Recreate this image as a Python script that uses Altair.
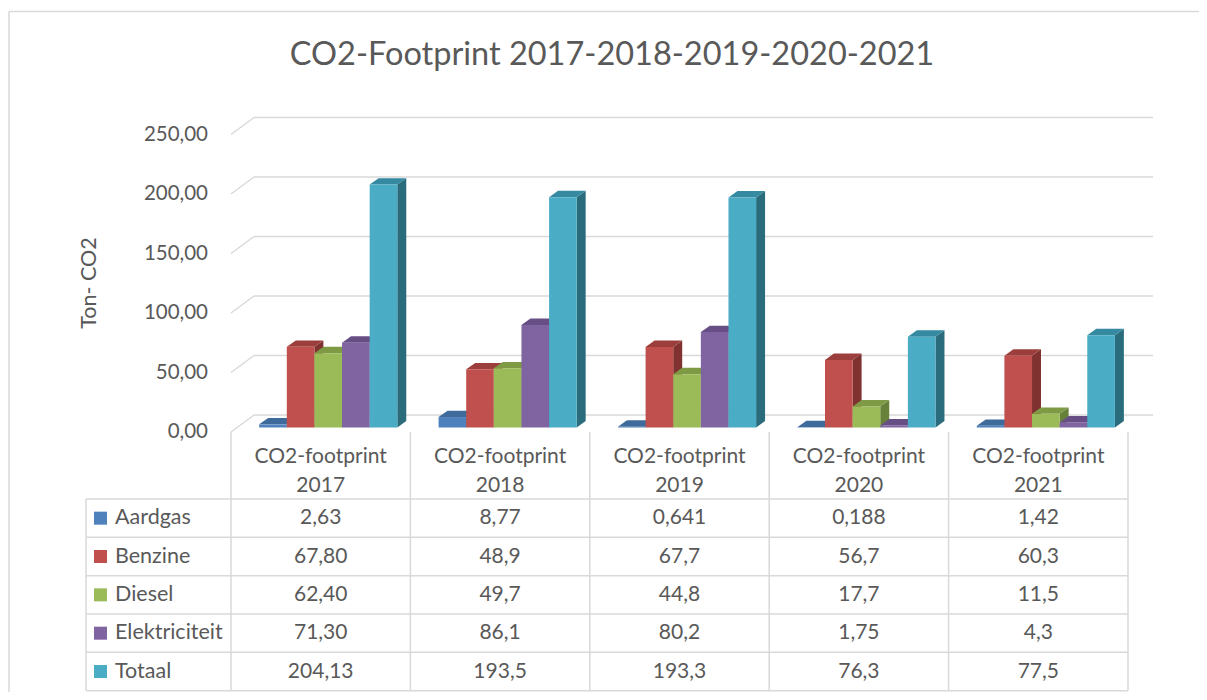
import altair as alt
import pandas as pd

# ---------------- data ----------------
TITLE = "CO2-Footprint 2017-2018-2019-2020-2021"
Y_TITLE = "Ton- CO2"
CATEGORY_PREFIX = "CO2-footprint"
YEARS = ["2017", "2018", "2019", "2020", "2021"]
SERIES = ["Aardgas", "Benzine", "Diesel", "Elektriciteit", "Totaal"]
AARDGAS = ["2,63", "8,77", "0,641", "0,188", "1,42"]
BENZINE = ["67,80", "48,9", "67,7", "56,7", "60,3"]
DIESEL = ["62,40", "49,7", "44,8", "17,7", "11,5"]
ELEKTRICITEIT = ["71,30", "86,1", "80,2", "1,75", "4,3"]
TOTAAL = ["204,13", "193,5", "193,3", "76,3", "77,5"]
Y_TICKS = [0, 50, 100, 150, 200, 250]

# ---------------- styling / layout ----------------
FONT = "Lato"
TXT = "#595959"
LINE = "#d9d9d9"
FRONT = ["#4F81BD", "#C0504D", "#9BBB59", "#8064A2", "#4BACC6"]
TOP = ["#3F6A9C", "#9C3F3C", "#7E9A45", "#674F85", "#3589A0"]
SIDE = ["#36598A", "#7F3230", "#67803A", "#56436F", "#2A6C7C"]

W, H = 1191, 684
XS = alt.Scale(domain=[0, 5], range=[223, 1120])          # category groups
YS = alt.Scale(domain=[0, 250], range=[424, 126.5])        # value axis (front plane)
TS = alt.Scale(domain=[0, 5], range=[491, 682.7])          # table rows
BAR_OFF, BAR_W = 0.157, 0.154      # in group units
DEPTH_X = 0.05                     # bar depth, group units
DEPTH_Y = 5.4                      # bar depth, value units
LIFT = -4.5                        # bars sit slightly back on the floor
WALL_DX, WALL_DY = 23, -17


def num(s):
    return float(s.replace(",", "."))


series_vals = [AARDGAS, BENZINE, DIESEL, ELEKTRICITEIT, TOTAAL]

front_rows, top_rows, side_rows, cell_rows = [], [], [], []
for s, (name, vals) in enumerate(zip(SERIES, series_vals)):
    for g, txt in enumerate(vals):
        v = num(txt)
        x0 = g + BAR_OFF + s * BAR_W
        x1 = x0 + BAR_W
        bid = f"{s}-{g}"
        front_rows.append(dict(series=name, x0=x0, x1=x1, v=v, z=0.0))
        top_rows.append(dict(series=name, bid=bid, yv=v, xa=x0, xb=x1))
        top_rows.append(dict(series=name, bid=bid, yv=v + DEPTH_Y, xa=x0 + DEPTH_X, xb=x1 + DEPTH_X))
        side_rows.append(dict(series=name, bid=bid, xv=x1, yt=v, yb=0.0))
        side_rows.append(dict(series=name, bid=bid, xv=x1 + DEPTH_X, yt=v + DEPTH_Y, yb=DEPTH_Y))
        cell_rows.append(dict(gc=g + 0.5, rc=s + 0.5, label=txt))

front_df = pd.DataFrame(front_rows)
top_df = pd.DataFrame(top_rows)
side_df = pd.DataFrame(side_rows)
cell_df = pd.DataFrame(cell_rows)
tick_df = pd.DataFrame({"v": Y_TICKS, "label": [f"{t:.2f}".replace(".", ",") for t in Y_TICKS]})
head_df = pd.DataFrame({"gc": [i + 0.5 for i in range(len(YEARS))],
                        "label": [f"{CATEGORY_PREFIX}\n{y}" for y in YEARS]})
legend_df = pd.DataFrame({"series": SERIES, "rc": [i + 0.5 for i in range(len(SERIES))]})
hline_df = pd.DataFrame({"k": list(range(len(SERIES) + 1))})
vline_df = pd.DataFrame({"g": list(range(len(YEARS) + 1))})
one = pd.DataFrame({"t": [TITLE], "yt": [Y_TITLE]})


def cscale(rng):
    return alt.Scale(domain=SERIES, range=rng)


# border of the chart area
border_left = alt.Chart(one).mark_rule(color=LINE, strokeWidth=1.5).encode(
    x=alt.value(1), y=alt.value(3.5), y2=alt.value(H))
border_top = alt.Chart(one).mark_rule(color=LINE, strokeWidth=1.5).encode(
    x=alt.value(1), x2=alt.value(W), y=alt.value(3.5))

# gridlines on the back wall + side wall diagonals
grid_back = alt.Chart(tick_df).mark_rule(color=LINE, strokeWidth=1.5, yOffset=WALL_DY).encode(
    y=alt.Y("v:Q", scale=YS, axis=None), x=alt.value(223 + WALL_DX), x2=alt.value(1145))
grid_side = alt.Chart(tick_df).mark_rule(color=LINE, strokeWidth=1.5, y2Offset=WALL_DY).encode(
    y=alt.Y("v:Q", scale=YS, axis=None), y2="v:Q", x=alt.value(223), x2=alt.value(223 + WALL_DX))

tick_labels = alt.Chart(tick_df).mark_text(
    align="right", baseline="middle", font=FONT, fontSize=20.5, color=TXT).encode(
    y=alt.Y("v:Q", scale=YS, axis=None), x=alt.value(200), text="label:N")

y_title = alt.Chart(one).mark_text(
    angle=270, align="center", baseline="middle", font=FONT, fontSize=21.5, color=TXT).encode(
    x=alt.value(82), y=alt.value(275), text="yt:N")

title = alt.Chart(one).mark_text(
    align="center", baseline="middle", font=FONT, fontSize=32.5, color=TXT).encode(
    x=alt.value(604), y=alt.value(47), text="t:N")

# 3D bars
sides = alt.Chart(side_df).mark_area(orient="vertical", yOffset=LIFT, y2Offset=LIFT).encode(
    x=alt.X("xv:Q", scale=XS, axis=None),
    y=alt.Y("yt:Q", scale=YS, axis=None, stack=None),
    y2="yb:Q",
    detail="bid:N",
    color=alt.Color("series:N", scale=cscale(SIDE), legend=None))
tops = alt.Chart(top_df).mark_area(orient="horizontal", yOffset=LIFT).encode(
    y=alt.Y("yv:Q", scale=YS, axis=None),
    x=alt.X("xa:Q", scale=XS, axis=None, stack=None),
    x2="xb:Q",
    detail="bid:N",
    color=alt.Color("series:N", scale=cscale(TOP), legend=None))
fronts = alt.Chart(front_df).mark_rect(yOffset=LIFT, y2Offset=LIFT).encode(
    x=alt.X("x0:Q", scale=XS, axis=None), x2="x1:Q",
    y=alt.Y("v:Q", scale=YS, axis=None, stack=None), y2="z:Q",
    color=alt.Color("series:N", scale=cscale(FRONT), legend=None))

# data table
hlines = alt.Chart(hline_df).mark_rule(color=LINE, strokeWidth=1.5).encode(
    y=alt.Y("k:Q", scale=TS, axis=None), x=alt.value(78), x2=alt.value(1120))
vlines = alt.Chart(vline_df).mark_rule(color=LINE, strokeWidth=1.5).encode(
    x=alt.X("g:Q", scale=XS, axis=None), y=alt.value(424), y2=alt.value(682.7))
left_line = alt.Chart(one).mark_rule(color=LINE, strokeWidth=1.5).encode(
    x=alt.value(78), y=alt.value(491), y2=alt.value(682.7))
head_text = alt.Chart(head_df).mark_text(
    align="center", baseline="middle", font=FONT, fontSize=21, color=TXT,
    lineBreak="\n", lineHeight=29).encode(
    x=alt.X("gc:Q", scale=XS, axis=None), y=alt.value(449), text="label:N")
cell_text = alt.Chart(cell_df).mark_text(
    align="center", baseline="middle", font=FONT, fontSize=21, color=TXT).encode(
    x=alt.X("gc:Q", scale=XS, axis=None), y=alt.Y("rc:Q", scale=TS, axis=None), text="label:N")
swatches = alt.Chart(legend_df).mark_square(size=169, opacity=1).encode(
    x=alt.value(92.5), y=alt.Y("rc:Q", scale=TS, axis=None),
    color=alt.Color("series:N", scale=cscale(FRONT), legend=None))
legend_text = alt.Chart(legend_df).mark_text(
    align="left", baseline="middle", font=FONT, fontSize=21.5, color=TXT).encode(
    x=alt.value(107), y=alt.Y("rc:Q", scale=TS, axis=None), text="series:N")

chart = alt.layer(
    border_left, border_top, grid_back, grid_side, tick_labels, y_title, title,
    sides, tops, fronts,
    hlines, vlines, left_line, head_text, cell_text, swatches, legend_text,
).resolve_scale(x="independent", y="independent", color="independent").properties(
    width=W, height=H, autosize=alt.AutoSizeParams(type="none"), padding=0,
    background="white",
).configure_view(stroke=None)

chart.save("out.html", embed_options={"renderer": "svg", "actions": False})
